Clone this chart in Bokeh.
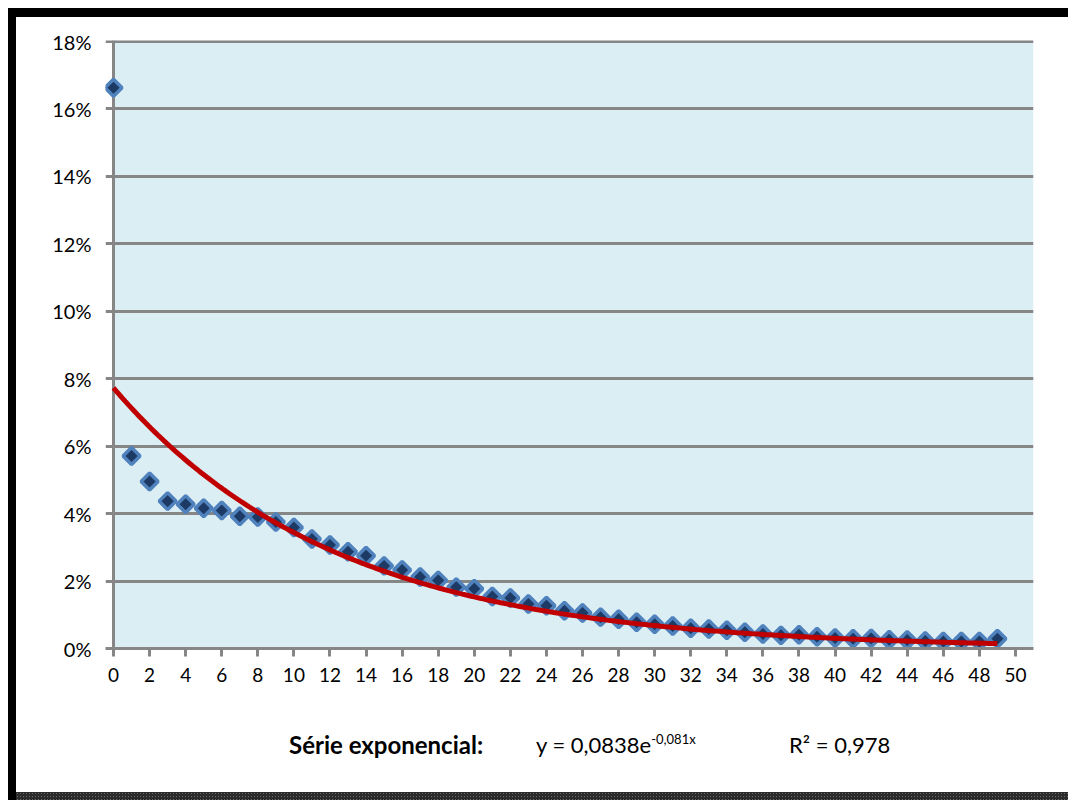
import numpy as np
from bokeh.plotting import figure
from bokeh.models import Range1d, FixedTicker, NumeralTickFormatter, Div, Span, BoxAnnotation
from bokeh.layouts import row, column
from bokeh.embed import file_html
from bokeh.resources import INLINE

# ---- data ----
x_vals = list(range(50))
y_vals = [0.1663, 0.0571, 0.0495, 0.0437, 0.0428, 0.0416, 0.0409, 0.0392, 0.0390, 0.0375,
          0.0359, 0.0325, 0.0307, 0.0287, 0.0275, 0.0245, 0.0233, 0.0212, 0.0202, 0.0182,
          0.0177, 0.0154, 0.0150, 0.0132, 0.0127, 0.0112, 0.0105, 0.0093, 0.0087, 0.0078,
          0.0072, 0.0067, 0.0060, 0.0058, 0.0054, 0.0048, 0.0043, 0.0039, 0.0041, 0.0035,
          0.0031, 0.0029, 0.0030, 0.0026, 0.0025, 0.0022, 0.0021, 0.0021, 0.0021, 0.0029]
y_ticks = [0, 0.02, 0.04, 0.06, 0.08, 0.10, 0.12, 0.14, 0.16, 0.18]
x_ticks = list(range(0, 51, 2))
trend_a = 0.0838      # y = 0,0838 e^(-0,081 x), x = category index (1-based)
trend_b = -0.081
trend_label = "y = 0,0838e"
trend_exp = "-0,081x"
r_label = "R² = 0,978"
series_label = "Série exponencial:"

FONT = "Lato"
GRID = "#868686"
W = 1052
TEXT_H = 92
HIDE = {"overflow": "hidden"}

p = figure(width=W, height=683, output_backend="svg", toolbar_location=None,
           x_range=Range1d(-0.4435, 51.0), y_range=Range1d(0, 0.1803),
           min_border_left=89, min_border_right=W - 1017, min_border_top=23, min_border_bottom=52,
           margin=0)
p.background_fill_color = "white"
p.border_fill_color = "white"
p.outline_line_color = None

# plot-area fill starts at the y axis (x = 0); gridlines poke out left like ticks
p.add_layout(BoxAnnotation(left=0, fill_color="#dbeef4", fill_alpha=1.0,
                           line_color=None, level="image"))

p.xgrid.visible = False
p.ygrid.grid_line_color = GRID
p.ygrid.grid_line_width = 3
p.ygrid.ticker = FixedTicker(ticks=y_ticks)

p.add_layout(Span(location=0, dimension="height", line_color=GRID, line_width=3,
                  level="underlay"))

xa = p.xaxis[0]
xa.axis_line_color = GRID
xa.axis_line_width = 3
xa.major_tick_line_color = GRID
xa.major_tick_line_width = 3
xa.major_tick_out = 8
xa.major_tick_in = 0
xa.minor_tick_line_color = None
xa.major_label_text_font = FONT
xa.major_label_text_font_size = "19px"
xa.major_label_text_color = "black"
xa.ticker = FixedTicker(ticks=x_ticks)
xa.major_label_standoff = 11

ya = p.yaxis[0]
ya.axis_line_color = None
ya.major_tick_line_color = None
ya.minor_tick_line_color = None
ya.major_tick_out = 0
ya.major_tick_in = 0
ya.major_label_text_font = FONT
ya.major_label_text_font_size = "20px"
ya.major_label_text_color = "black"
ya.ticker = FixedTicker(ticks=y_ticks)
ya.formatter = NumeralTickFormatter(format="0%")
ya.major_label_standoff = 14

p.scatter(x_vals, y_vals, marker="square", angle=np.pi / 4, size=12,
          fill_color="#1c3a63", line_color="#4f81bd", line_width=3.5)

tx = np.linspace(min(x_vals), max(x_vals), 300)
ty = trend_a * np.exp(trend_b * (tx + 1))
p.line(tx, ty, line_color="#c00000", line_width=5)

span = "position:absolute; top:31px; font-family:Lato, sans-serif; font-size:22px; line-height:28px; color:black; white-space:nowrap;"
text_html = (
    f'<div style="position:relative; width:{W}px; height:{TEXT_H - 12}px; overflow:hidden;">'
    f'<span style="{span} left:273px; font-size:24px; font-weight:bold;">{series_label}</span>'
    f'<span style="{span} left:520px;">{trend_label}<span style="font-size:13px; position:relative; top:-9px;">{trend_exp}</span></span>'
    f'<span style="{span} left:773px;">{r_label}</span>'
    f'</div>'
)
bottom_text = Div(text=text_html, width=W, height=TEXT_H, margin=0, styles=HIDE)

top_bar = Div(text="", width=W, height=9, margin=0,
              styles={"background-color": "black", "overflow": "hidden"})
bottom_bar = Div(text="", width=W, height=8, margin=0,
                 styles={"background-color": "#2a2a2a", "overflow": "hidden",
                         "background-image": "radial-gradient(#6a6a6a 0.8px, transparent 1px)",
                         "background-size": "3px 3px"})
left_bar = Div(text="", width=8, height=9 + 683 + TEXT_H + 8, margin=0,
               styles={"background-color": "black", "overflow": "hidden"})

layout = row(left_bar, column(top_bar, p, bottom_text, bottom_bar, spacing=0, margin=0, styles=HIDE),
             spacing=0, margin=(8, 0, 0, 8), styles=HIDE)

open("out.html", "w").write(file_html(layout, INLINE))
